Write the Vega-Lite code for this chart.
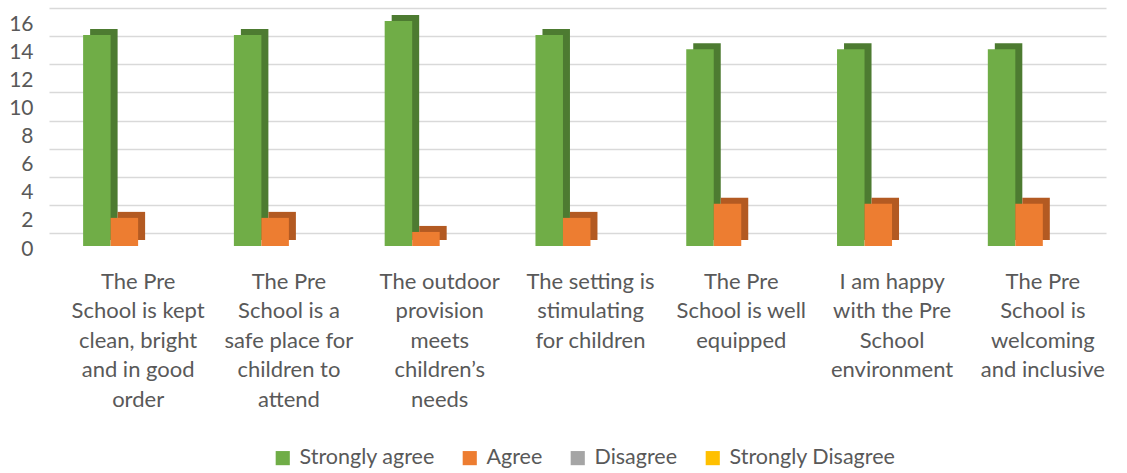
{
  "$schema": "https://vega.github.io/schema/vega-lite/v6.json",
  "autosize": {"type": "none"},
  "width": 1057,
  "height": 225,
  "padding": {"left": 62, "top": 21, "right": 8, "bottom": 227},
  "background": "white",
  "config": {"view": {"stroke": null}, "font": "Lato"},
  "data": {"values": [
    {"category": "The Pre|School is kept|clean, bright|and in good|order", "series": "Strongly agree", "value": 15},
    {"category": "The Pre|School is kept|clean, bright|and in good|order", "series": "Agree", "value": 2},
    {"category": "The Pre|School is kept|clean, bright|and in good|order", "series": "Disagree", "value": 0},
    {"category": "The Pre|School is kept|clean, bright|and in good|order", "series": "Strongly Disagree", "value": 0},
    {"category": "The Pre|School is a|safe place for|children to|attend", "series": "Strongly agree", "value": 15},
    {"category": "The Pre|School is a|safe place for|children to|attend", "series": "Agree", "value": 2},
    {"category": "The Pre|School is a|safe place for|children to|attend", "series": "Disagree", "value": 0},
    {"category": "The Pre|School is a|safe place for|children to|attend", "series": "Strongly Disagree", "value": 0},
    {"category": "The outdoor|provision|meets|children’s|needs", "series": "Strongly agree", "value": 16},
    {"category": "The outdoor|provision|meets|children’s|needs", "series": "Agree", "value": 1},
    {"category": "The outdoor|provision|meets|children’s|needs", "series": "Disagree", "value": 0},
    {"category": "The outdoor|provision|meets|children’s|needs", "series": "Strongly Disagree", "value": 0},
    {"category": "The setting is|stimulating|for children", "series": "Strongly agree", "value": 15},
    {"category": "The setting is|stimulating|for children", "series": "Agree", "value": 2},
    {"category": "The setting is|stimulating|for children", "series": "Disagree", "value": 0},
    {"category": "The setting is|stimulating|for children", "series": "Strongly Disagree", "value": 0},
    {"category": "The Pre|School is well|equipped", "series": "Strongly agree", "value": 14},
    {"category": "The Pre|School is well|equipped", "series": "Agree", "value": 3},
    {"category": "The Pre|School is well|equipped", "series": "Disagree", "value": 0},
    {"category": "The Pre|School is well|equipped", "series": "Strongly Disagree", "value": 0},
    {"category": "I am happy|with the Pre|School|environment", "series": "Strongly agree", "value": 14},
    {"category": "I am happy|with the Pre|School|environment", "series": "Agree", "value": 3},
    {"category": "I am happy|with the Pre|School|environment", "series": "Disagree", "value": 0},
    {"category": "I am happy|with the Pre|School|environment", "series": "Strongly Disagree", "value": 0},
    {"category": "The Pre|School is|welcoming|and inclusive", "series": "Strongly agree", "value": 14},
    {"category": "The Pre|School is|welcoming|and inclusive", "series": "Agree", "value": 3},
    {"category": "The Pre|School is|welcoming|and inclusive", "series": "Disagree", "value": 0},
    {"category": "The Pre|School is|welcoming|and inclusive", "series": "Strongly Disagree", "value": 0}
  ]},
  "encoding": {
    "x": {
      "field": "category", "type": "nominal", "sort": null,
      "scale": {"paddingInner": 0.27, "paddingOuter": 0.14},
      "axis": {
        "title": null, "labelAngle": 0, "domain": false, "ticks": false,
        "labelExpr": "split(datum.label, '|')",
        "labelFont": "Lato", "labelFontSize": 22, "labelColor": "#595959",
        "labelLineHeight": 29.5, "labelPadding": 25, "labelBaseline": "top"
      }
    },
    "y": {"field": "value", "type": "quantitative", "scale": {"domain": [0, 16]}}
  },
  "layer": [
    {
      "mark": {"type": "bar", "yOffset": -6, "y2Offset": -6},
      "encoding": {
        "xOffset": {
          "field": "series", "type": "nominal",
          "scale": {"domain": ["Strongly agree", "Agree", "Disagree", "Strongly Disagree"], "range": [7, 117], "paddingInner": 0, "paddingOuter": 0}
        },
        "y": {"field": "value", "type": "quantitative", "scale": {"domain": [0, 16]},
          "axis": {"orient": "left", "title": null, "labels": false, "ticks": false, "domain": false,
            "grid": true, "gridColor": "#D9D9D9", "gridWidth": 1.5, "values": [0,2,4,6,8,10,12,14,16], "translate": -12.5}},
        "color": {"field": "series", "type": "nominal", "legend": null,
          "scale": {"domain": ["Strongly agree", "Agree", "Disagree", "Strongly Disagree"],
            "range": ["#4D7B31", "#B35A22", "#7F7F7F", "#BF9000"]}}
      }
    },
    {
      "mark": {"type": "bar"},
      "encoding": {
        "xOffset": {
          "field": "series", "type": "nominal",
          "scale": {"domain": ["Strongly agree", "Agree", "Disagree", "Strongly Disagree"], "range": [0, 110], "paddingInner": 0, "paddingOuter": 0}
        },
        "y": {"field": "value", "type": "quantitative", "scale": {"domain": [0, 16]},
          "axis": {"orient": "left", "title": null, "grid": false, "ticks": false, "domain": false,
            "values": [0,2,4,6,8,10,12,14,16],
            "labelFont": "Lato", "labelFontSize": 21, "labelColor": "#595959", "labelPadding": 29, "labelOffset": 3}},
        "color": {"field": "series", "type": "nominal",
          "scale": {"domain": ["Strongly agree", "Agree", "Disagree", "Strongly Disagree"],
            "range": ["#70AD47", "#ED7D31", "#A5A5A5", "#FFC000"]},
          "legend": {"title": null, "orient": "none", "direction": "horizontal", "legendX": 210, "legendY": 426,
            "symbolType": "square", "symbolSize": 200, "symbolStrokeWidth": 0, "symbolOpacity": 1,
            "labelFont": "Lato", "labelFontSize": 21.5, "labelColor": "#595959", "labelLimit": 400,
            "columnPadding": 24, "labelOffset": 6}}
      }
    }
  ],
  "resolve": {"scale": {"color": "independent", "xOffset": "independent"}, "axis": {"y": "independent"}}
}
